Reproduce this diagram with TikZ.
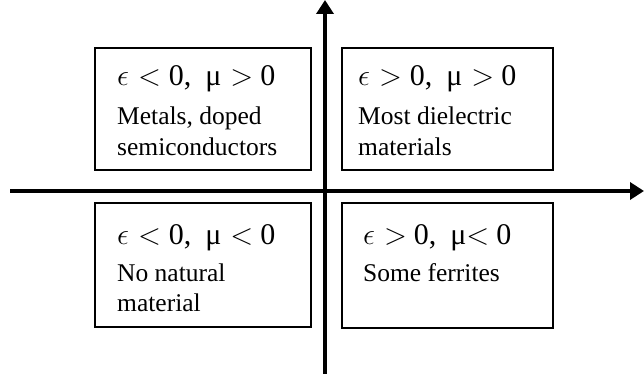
\RequirePackage{fix-cm}
\documentclass[tikz,border=0pt]{standalone}
\usepackage{fontspec}
\setmainfont{Liberation Serif}
\usetikzlibrary{arrows.meta}
\newcommand{\eps}{$\epsilon$}
\newcommand{\lt}{$<$}
\newcommand{\gt}{$>$}
\tikzset{
  axis/.style={line width=3.6pt, -{Triangle[length=14pt,width=17pt]}},
  qbox/.style={draw=black, line width=2pt, rectangle, inner sep=0pt},
  cond/.style={anchor=base west, inner sep=0pt, font=\fontsize{30}{30}\selectfont},
  desc/.style={anchor=base west, inner sep=0pt, font=\fontsize{25.5}{25.5}\selectfont},
}
\begin{document}
\begin{tikzpicture}[x=1pt,y=-1pt]
\useasboundingbox (0,0) rectangle (644,374);
\fill[white] (0,0) rectangle (644,374);
% axes
\coordinate (xs) at (10,191);
\coordinate (xe) at (644,191);
\coordinate (ys) at (325,374);
\coordinate (ye) at (325,0);
\draw[axis] (xs) -- (xe);
\draw[axis] (ys) -- (ye);
% boxes
\node[qbox, minimum width=216pt, minimum height=122pt] (q2) at (203,109) {};
\node[qbox, minimum width=211pt, minimum height=122pt] (q1) at (447.5,109) {};
\node[qbox, minimum width=216pt, minimum height=124pt] (q3) at (203,265) {};
\node[qbox, minimum width=211pt, minimum height=125pt] (q4) at (447.5,265.5) {};
% texts
\node[cond] (c2) at (117,86) {\eps\hspace{9pt}\lt\hspace{8pt}0,\hspace{14pt}μ\hspace{9pt}\gt\hspace{7pt}0};
\node[desc] (d2a) at (117,125) {Metals, doped};
\node[desc] (d2b) at (117,155) {semiconductors};
\node[cond] (c1) at (358,86) {\eps\hspace{9pt}\gt\hspace{8pt}0,\hspace{14pt}μ\hspace{9pt}\gt\hspace{7pt}0};
\node[desc] (d1a) at (358,125) {Most dielectric};
\node[desc] (d1b) at (358,155) {materials};
\node[cond] (c3) at (117,244) {\eps\hspace{9pt}\lt\hspace{8pt}0,\hspace{14pt}μ\hspace{9pt}\lt\hspace{7pt}0};
\node[desc] (d3a) at (117,281) {No natural};
\node[desc] (d3b) at (117,311) {material};
\node[cond] (c4) at (363,244) {\eps\hspace{9pt}\gt\hspace{7pt}0,\hspace{14pt}μ\lt\hspace{7pt}0};
\node[desc] (d4a) at (363,281) {Some ferrites};
\end{tikzpicture}
\end{document}
